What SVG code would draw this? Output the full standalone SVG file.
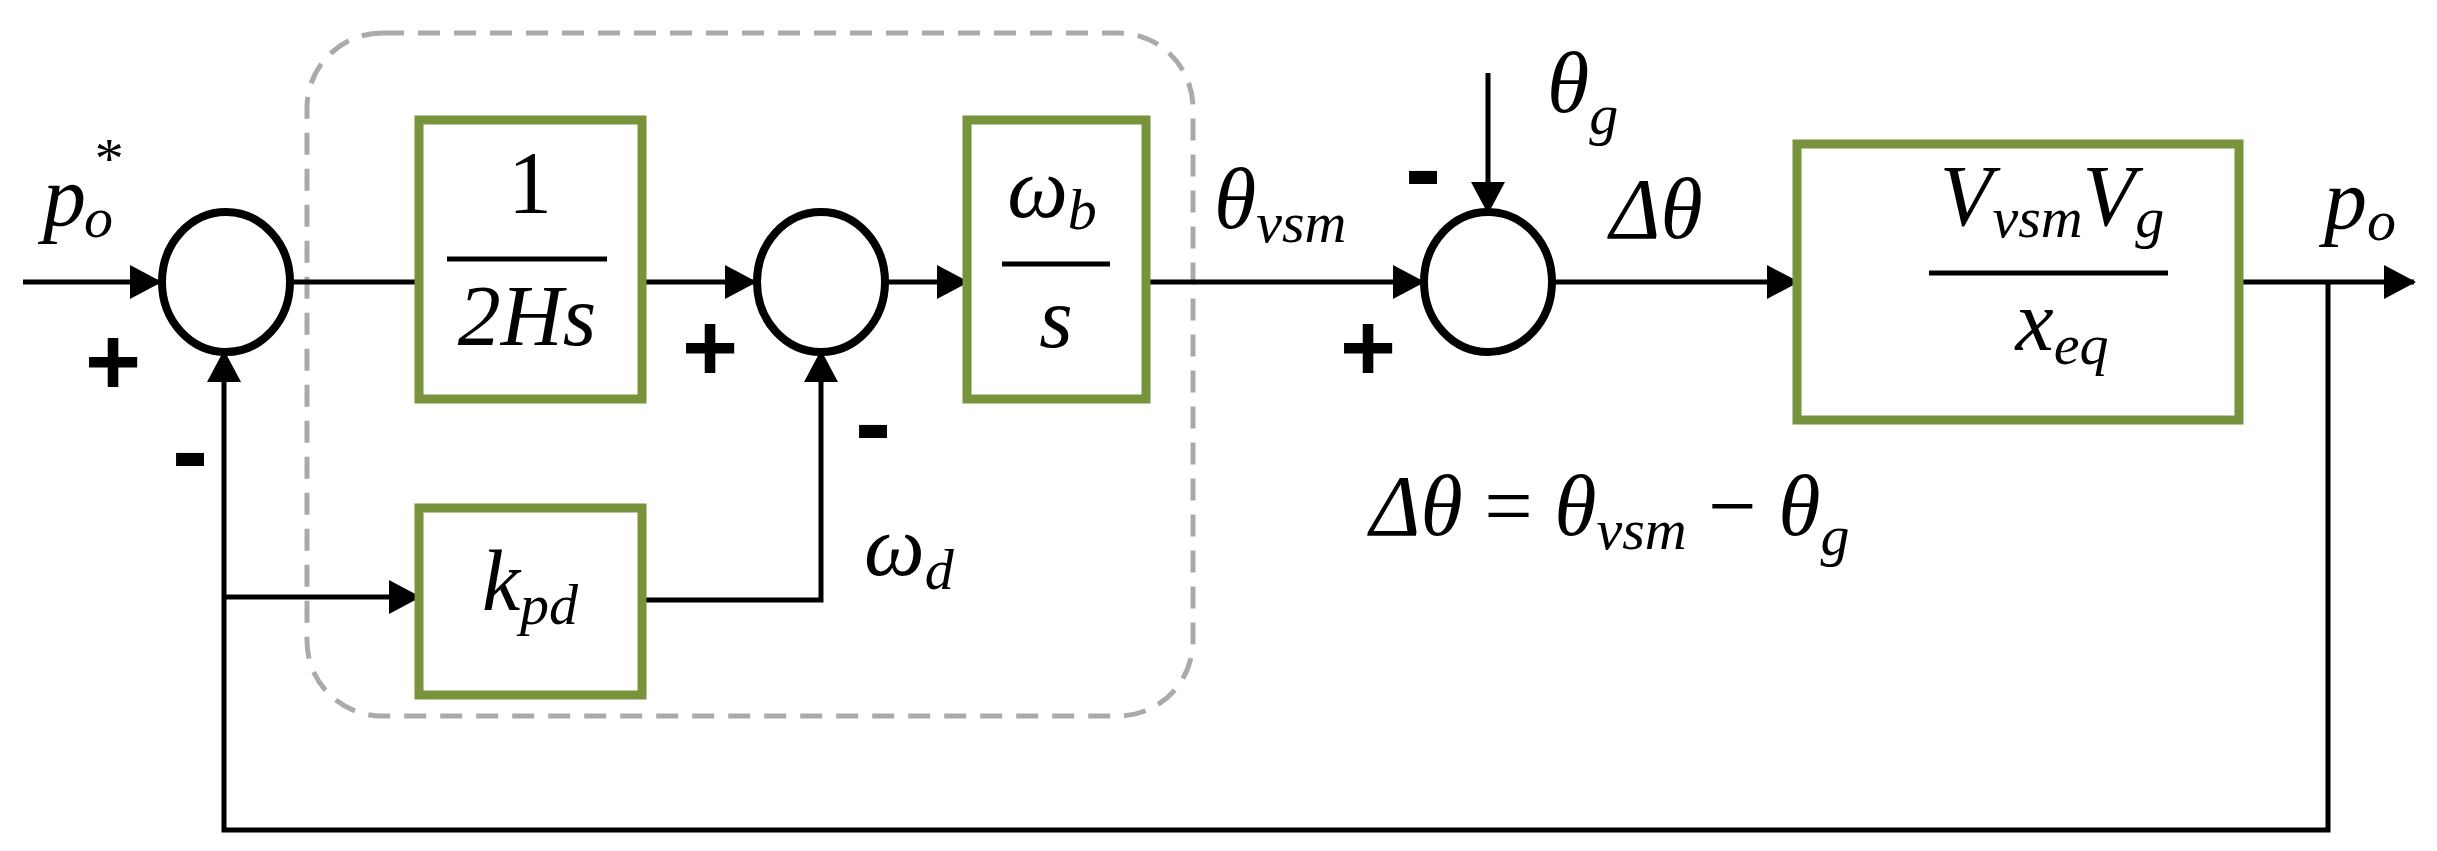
<svg xmlns="http://www.w3.org/2000/svg" width="2437" height="851" viewBox="0 0 2437 851">
<style>
.w{fill:none;stroke:#000;stroke-width:5}
.s{fill:none;stroke:#000;stroke-width:8}
.b{fill:#fff;stroke:#77933C;stroke-width:9}
.m{font-family:"Liberation Serif",serif;font-style:italic;fill:#000}
.n{font-family:"Liberation Serif",serif;fill:#000}
.sg{font-family:"Liberation Sans",sans-serif;font-weight:bold;fill:#000}
</style>
<defs>
<marker id="a" markerUnits="userSpaceOnUse" markerWidth="32" markerHeight="34" refX="30" refY="17" orient="auto"><path d="M0,0 L32,17 L0,34 Z" fill="#000"/></marker>
</defs>
<rect x="307" y="33" width="886" height="683" rx="75" fill="none" stroke="#aaa" stroke-width="5" stroke-dasharray="22,14"/>
<g id="connectors">
<line class="w" x1="23" y1="282" x2="160" y2="282" marker-end="url(#a)"/>
<line class="w" x1="292" y1="282" x2="419" y2="282"/>
<line class="w" x1="642" y1="282" x2="755" y2="282" marker-end="url(#a)"/>
<line class="w" x1="887" y1="282" x2="967" y2="282" marker-end="url(#a)"/>
<line class="w" x1="1146" y1="282" x2="1423" y2="282" marker-end="url(#a)"/>
<line class="w" x1="1553" y1="282" x2="1797" y2="282" marker-end="url(#a)"/>
<line class="w" x1="2239" y1="282" x2="2414" y2="282" marker-end="url(#a)"/>
<polyline class="w" points="2328,282 2328,830 224,830 224,352" marker-end="url(#a)"/>
<line class="w" x1="224" y1="597" x2="419" y2="597" marker-end="url(#a)"/>
<polyline class="w" points="642,600 821,600 821,352" marker-end="url(#a)"/>
<line class="w" x1="1488" y1="73" x2="1488" y2="212" marker-end="url(#a)"/>
</g>
<g id="sum1"><ellipse class="s" cx="226" cy="282" rx="64" ry="70"/></g>
<g id="sum2"><ellipse class="s" cx="821" cy="282" rx="64" ry="70"/></g>
<g id="sum3"><ellipse class="s" cx="1488" cy="282" rx="64" ry="70"/></g>
<g id="inertia"><rect class="b" x="419" y="120" width="223" height="279"/>
<text class="n" x="530" y="212" font-size="88" text-anchor="middle">1</text>
<line x1="447" y1="259" x2="607" y2="259" stroke="#000" stroke-width="5"/>
<text class="m" x="527" y="345" font-size="86" text-anchor="middle">2Hs</text></g>
<g id="integrator"><rect class="b" x="967" y="120" width="179" height="279"/>
<text class="m" x="1052" y="217" font-size="86" text-anchor="middle">ω<tspan font-size="58" dy="12">b</tspan></text>
<line x1="1002" y1="264" x2="1110" y2="264" stroke="#000" stroke-width="5"/>
<text class="m" x="1056" y="347" font-size="86" text-anchor="middle">s</text></g>
<g id="damping"><rect class="b" x="419" y="508" width="223" height="187"/>
<text class="m" x="530" y="610" font-size="86" text-anchor="middle">k<tspan font-size="58" dy="14">pd</tspan></text></g>
<g id="plant"><rect class="b" x="1797" y="144" width="442" height="276"/>
<text class="m" x="2052" y="225" font-size="86" text-anchor="middle">V<tspan font-size="58" dy="12">vsm</tspan><tspan dy="-12">V</tspan><tspan font-size="58" dy="12">g</tspan></text>
<line x1="1929" y1="273" x2="2168" y2="273" stroke="#000" stroke-width="5"/>
<text class="m" x="2062" y="350" font-size="86" text-anchor="middle">x<tspan font-size="58" dy="14">eq</tspan></text></g>
<g id="labels">
<text class="m" x="43" y="225" font-size="86">p<tspan font-size="58" dx="-2" dy="12">o</tspan></text>
<text class="m" x="92" y="178" font-size="58">*</text>
<text class="sg" x="113" y="395" font-size="96" text-anchor="middle">+</text>
<text class="sg" x="190" y="488" font-size="110" text-anchor="middle">-</text>
<text class="sg" x="710" y="381" font-size="96" text-anchor="middle">+</text>
<text class="sg" x="873" y="460" font-size="110" text-anchor="middle">-</text>
<text class="m" x="864" y="575" font-size="86">ω<tspan font-size="58" dy="14">d</tspan></text>
<text class="m" x="1214" y="228" font-size="86">θ<tspan font-size="58" dy="14">vsm</tspan></text>
<text class="sg" x="1368" y="381" font-size="96" text-anchor="middle">+</text>
<text class="sg" x="1423" y="206" font-size="110" text-anchor="middle">-</text>
<text class="m" x="1547" y="112" font-size="86">θ<tspan font-size="58" dy="22">g</tspan></text>
<text class="m" x="1610" y="238" font-size="86">Δθ</text>
<text class="m" x="2324" y="228" font-size="86">p<tspan font-size="58" dy="12">o</tspan></text>
<text class="m" x="1370" y="535" font-size="86">Δθ <tspan class="n" font-style="normal">=</tspan> θ<tspan font-size="58" dy="14">vsm</tspan><tspan dy="-14"> </tspan><tspan class="n" font-style="normal">−</tspan> θ<tspan font-size="58" dy="20">g</tspan></text>
</g>
</svg>
